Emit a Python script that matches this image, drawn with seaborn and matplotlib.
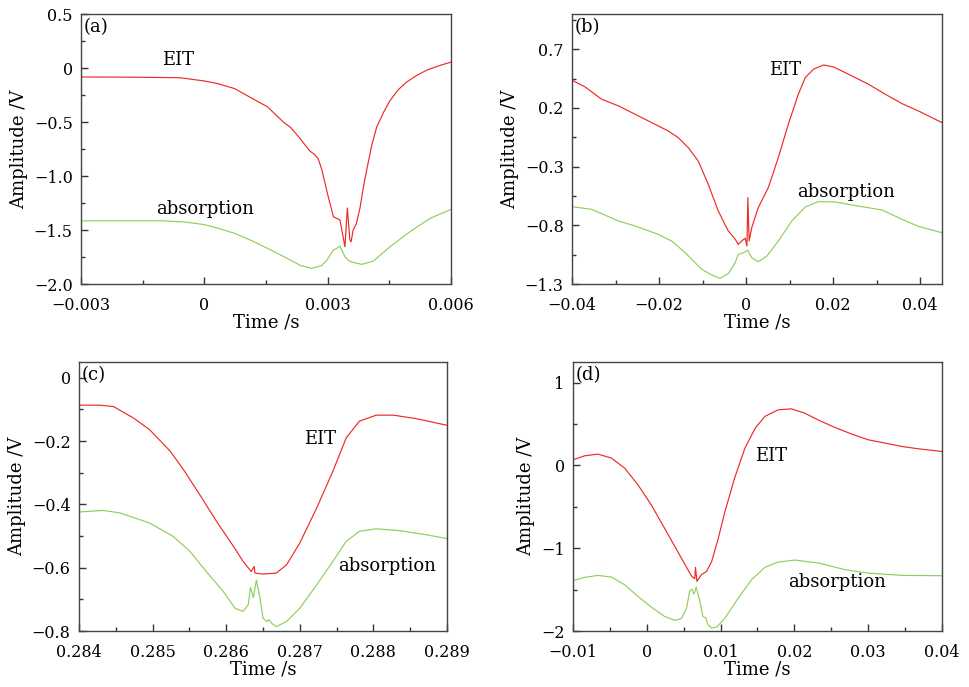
import numpy as np
import pandas as pd
import matplotlib
matplotlib.use("Agg")
import matplotlib.pyplot as plt
import seaborn as sns
from matplotlib.ticker import MultipleLocator, FuncFormatter

# ---- panel (a) ----
t_eit_a = [-0.003, -0.00173, -0.00059, 0.0, 0.00033, 0.00073, 0.00111, 0.00154, 0.00192,
           0.00210, 0.00233, 0.00257, 0.00268, 0.00277, 0.00286, 0.00300, 0.00314, 0.00330,
           0.00342, 0.00348, 0.00354, 0.00357, 0.00362, 0.00370, 0.00379, 0.00387, 0.00395,
           0.00407, 0.00419, 0.00436, 0.00452, 0.00472, 0.00492, 0.00516, 0.00541, 0.0057, 0.006]
eit_a = [-0.083, -0.085, -0.09, -0.12, -0.145, -0.19, -0.27, -0.36, -0.50,
         -0.55, -0.654, -0.77, -0.80, -0.84, -0.944, -1.17, -1.377, -1.407,
         -1.655, -1.296, -1.593, -1.61, -1.5, -1.44, -1.29, -1.10, -0.944,
         -0.72, -0.55, -0.41, -0.30, -0.20, -0.13, -0.07, -0.02, 0.02, 0.055]
t_abs_a = [-0.003, -0.001, -0.0005, 0.0, 0.0003, 0.00073, 0.0011, 0.00154, 0.0018, 0.00209,
           0.00235, 0.00261, 0.00285, 0.00298, 0.00314, 0.00322, 0.00330, 0.00342, 0.00352,
           0.00362, 0.00383, 0.0041, 0.00452, 0.0050, 0.0055, 0.006]
abs_a = [-1.415, -1.415, -1.425, -1.45, -1.48, -1.53, -1.59, -1.67, -1.72, -1.778,
         -1.83, -1.855, -1.83, -1.78, -1.685, -1.67, -1.648, -1.747, -1.785,
         -1.80, -1.818, -1.79, -1.655, -1.516, -1.39, -1.31]

# ---- panel (b) ----
t_eit_b = [-0.04, -0.037, -0.0332, -0.0293, -0.0255, -0.0217, -0.0179, -0.0156, -0.0133,
           -0.011, -0.0087, -0.0064, -0.0041, -0.0025, -0.0018, -0.001, -0.0002, 0.0002,
           0.0004, 0.0007, 0.0013, 0.0028, 0.0051, 0.0074, 0.0097, 0.012, 0.0136, 0.0155,
           0.0178, 0.0201, 0.0243, 0.0281, 0.032, 0.0358, 0.0396, 0.045]
eit_b = [0.436, 0.379, 0.274, 0.217, 0.146, 0.075, 0.004, -0.053, -0.138,
         -0.252, -0.45, -0.678, -0.848, -0.919, -0.962, -0.933, -0.91, -0.976,
         -0.564, -0.933, -0.82, -0.649, -0.479, -0.223, 0.061, 0.317, 0.459, 0.53,
         0.566, 0.549, 0.473, 0.402, 0.316, 0.237, 0.174, 0.075]
t_abs_b = [-0.04, -0.0355, -0.0293, -0.0255, -0.0202, -0.0171, -0.014, -0.0102, -0.0079,
           -0.006, -0.0041, -0.0025, -0.0018, -0.0006, 0.0004, 0.0013, 0.0028, 0.0048,
           0.0074, 0.0105, 0.0136, 0.0166, 0.0205, 0.0243, 0.0312, 0.0358, 0.0396, 0.045]
abs_b = [-0.641, -0.664, -0.763, -0.806, -0.877, -0.934, -1.033, -1.175, -1.223,
         -1.252, -1.212, -1.118, -1.047, -1.033, -1.013, -1.076, -1.11, -1.061,
         -0.934, -0.763, -0.644, -0.598, -0.601, -0.627, -0.669, -0.749, -0.809, -0.863]

# ---- panel (c) ----
t_eit_c = [0.284, 0.28429, 0.28447, 0.28474, 0.28496, 0.28524, 0.28542, 0.28564, 0.28587,
           0.2861, 0.28623, 0.28634, 0.28638, 0.28639, 0.2865, 0.28668, 0.28682, 0.287,
           0.28723, 0.28745, 0.28763, 0.28781, 0.28804, 0.28827, 0.28858, 0.289]
eit_c = [-0.0865, -0.0865, -0.091, -0.127, -0.164, -0.232, -0.29, -0.369, -0.454,
         -0.533, -0.58, -0.612, -0.596, -0.617, -0.62, -0.617, -0.591, -0.522,
         -0.411, -0.295, -0.19, -0.137, -0.118, -0.118, -0.129, -0.15]
t_abs_c = [0.284, 0.28433, 0.28456, 0.28496, 0.28528, 0.28551, 0.28573, 0.28596, 0.28612,
           0.28623, 0.2863, 0.28633, 0.28637, 0.28641, 0.28646, 0.2865, 0.28655, 0.28658,
           0.28662, 0.28668, 0.28682, 0.287, 0.28723, 0.28745, 0.28763, 0.28781, 0.28804,
           0.28836, 0.28872, 0.289]
abs_c = [-0.424, -0.419, -0.427, -0.459, -0.501, -0.549, -0.612, -0.675, -0.728,
         -0.738, -0.717, -0.662, -0.694, -0.639, -0.696, -0.759, -0.77, -0.764,
         -0.776, -0.786, -0.77, -0.728, -0.654, -0.58, -0.517, -0.485, -0.477,
         -0.483, -0.496, -0.508]

# ---- panel (d) ----
t_eit_d = [-0.01, -0.0084, -0.0066, -0.0048, -0.003, -0.0012, 0.0006, 0.0024, 0.0038,
           0.0052, 0.0061, 0.0065, 0.0066, 0.0068, 0.0074, 0.0081, 0.0088, 0.0097, 0.0106,
           0.0119, 0.0133, 0.0147, 0.016, 0.0178, 0.0196, 0.0214, 0.0232, 0.0255, 0.0278,
           0.03, 0.0323, 0.0346, 0.0368, 0.04]
eit_d = [0.068, 0.117, 0.137, 0.089, -0.032, -0.233, -0.475, -0.757, -0.978,
         -1.2, -1.34, -1.368, -1.231, -1.4, -1.32, -1.28, -1.159, -0.877, -0.555,
         -0.153, 0.209, 0.451, 0.592, 0.672, 0.684, 0.632, 0.551, 0.459, 0.378,
         0.31, 0.27, 0.229, 0.201, 0.169]
t_abs_d = [-0.01, -0.0084, -0.0066, -0.0048, -0.003, -0.0012, 0.0006, 0.0024, 0.0038,
           0.0047, 0.0054, 0.0058, 0.0061, 0.0064, 0.0067, 0.0072, 0.0076, 0.008, 0.0083,
           0.0088, 0.0095, 0.0106, 0.0124, 0.0142, 0.016, 0.0178, 0.0201, 0.0233, 0.0269,
           0.03, 0.0346, 0.04]
abs_d = [-1.392, -1.352, -1.328, -1.348, -1.441, -1.581, -1.71, -1.823, -1.871,
         -1.851, -1.722, -1.521, -1.493, -1.553, -1.469, -1.642, -1.823, -1.843, -1.924,
         -1.964, -1.952, -1.843, -1.602, -1.38, -1.231, -1.167, -1.143, -1.179, -1.26,
         -1.3, -1.328, -1.332]

RED = "#ee2a24"
GREEN = "#8fcf5c"

sns.set_style("ticks")
plt.rcParams["font.family"] = ["DejaVu Serif"]
plt.rcParams["text.color"] = "black"
plt.rcParams["axes.labelcolor"] = "black"


def fmt(v, pos):
    if abs(v) < 1e-12:
        return "0"
    s = "%g" % round(v, 6)
    return s.replace("-", "\u2212")


fig = plt.figure(figsize=(9.69, 6.87), dpi=100)

panels = [
    dict(rect=[0.0836, 0.5866, 0.3818, 0.393], tag="(a)",
         eit=(t_eit_a, eit_a), ab=(t_abs_a, abs_a),
         xlim=(-0.003, 0.006), ylim=(-2.0, 0.5),
         xmaj=[-0.003, 0, 0.003, 0.006], xmin=0.0015,
         ymaj=[-2.0, -1.5, -1.0, -0.5, 0, 0.5], ymin=0.25, yfmt="%.1f",
         eit_pos=(-0.00064, 0.074), abs_pos=(0.00002, -1.31)),
    dict(rect=[0.5903, 0.5866, 0.3818, 0.393], tag="(b)",
         eit=(t_eit_b, eit_b), ab=(t_abs_b, abs_b),
         xlim=(-0.04, 0.045), ylim=(-1.3, 1.0),
         xmaj=[-0.04, -0.02, 0, 0.02, 0.04], xmin=0.01,
         ymaj=[-1.3, -0.8, -0.3, 0.2, 0.7], ymin=[-1.05, -0.55, -0.05, 0.45, 0.95],
         yfmt="%.1f",
         eit_pos=(0.009, 0.524), abs_pos=(0.023, -0.512)),
    dict(rect=[0.0815, 0.0815, 0.3798, 0.3916], tag="(c)",
         eit=(t_eit_c, eit_c), ab=(t_abs_c, abs_c),
         xlim=(0.284, 0.289), ylim=(-0.8, 0.05),
         xmaj=[0.284, 0.285, 0.286, 0.287, 0.288, 0.289], xmin=0.0005,
         ymaj=[-0.8, -0.6, -0.4, -0.2, 0], ymin=0.1, yfmt="%.1f",
         eit_pos=(0.28727, -0.192), abs_pos=(0.28818, -0.594)),
    dict(rect=[0.5913, 0.0815, 0.3808, 0.3916], tag="(d)",
         eit=(t_eit_d, eit_d), ab=(t_abs_d, abs_d),
         xlim=(-0.01, 0.04), ylim=(-2.0, 1.25),
         xmaj=[-0.01, 0, 0.01, 0.02, 0.03, 0.04], xmin=0.005,
         ymaj=[-2, -1, 0, 1], ymin=0.5, yfmt="%g",
         eit_pos=(0.0168, 0.12), abs_pos=(0.0258, -1.41)),
]

for p in panels:
    ax = fig.add_axes(p["rect"])
    df_e = pd.DataFrame({"t": p["eit"][0], "v": p["eit"][1]})
    df_a = pd.DataFrame({"t": p["ab"][0], "v": p["ab"][1]})
    sns.lineplot(data=df_e, x="t", y="v", ax=ax, color=RED, lw=0.85, sort=False)
    sns.lineplot(data=df_a, x="t", y="v", ax=ax, color=GREEN, lw=0.85, sort=False)
    ax.set_xlim(*p["xlim"])
    ax.set_ylim(*p["ylim"])
    ax.set_xticks(p["xmaj"])
    if isinstance(p["xmin"], list):
        ax.set_xticks(p["xmin"], minor=True)
    else:
        ax.xaxis.set_minor_locator(MultipleLocator(p["xmin"]))
    ax.set_yticks(p["ymaj"])
    if isinstance(p["ymin"], list):
        ax.set_yticks(p["ymin"], minor=True)
    else:
        ax.yaxis.set_minor_locator(MultipleLocator(p["ymin"]))
    ax.xaxis.set_major_formatter(FuncFormatter(fmt))
    yf = p["yfmt"]
    ax.yaxis.set_major_formatter(FuncFormatter(
        lambda v, pos, yf=yf: "0" if abs(v) < 1e-9 else (yf % v).replace("-", "\u2212")))
    ax.tick_params(which="both", direction="in", top=False, right=False,
                   bottom=True, left=True, color="#333333", labelcolor="black",
                   labelsize=11.5)
    ax.tick_params(which="major", length=5, width=1)
    ax.tick_params(which="minor", length=3, width=1)
    ax.tick_params(axis="x", which="major", pad=9)
    ax.tick_params(axis="y", which="major", pad=6)
    for s in ax.spines.values():
        s.set_visible(True)
        s.set_color("#444444")
        s.set_linewidth(1.0)
    ax.set_xlabel("Time /s", fontsize=13, labelpad=0)
    ax.set_ylabel("Amplitude /V", fontsize=13, labelpad=4)
    ax.text(0.008, 0.985, p["tag"], transform=ax.transAxes, fontsize=13,
            ha="left", va="top")
    ax.text(*p["eit_pos"], "EIT", fontsize=13, ha="center", va="center")
    ax.text(*p["abs_pos"], "absorption", fontsize=13, ha="center", va="center")

fig.savefig("out.png", dpi=100)
